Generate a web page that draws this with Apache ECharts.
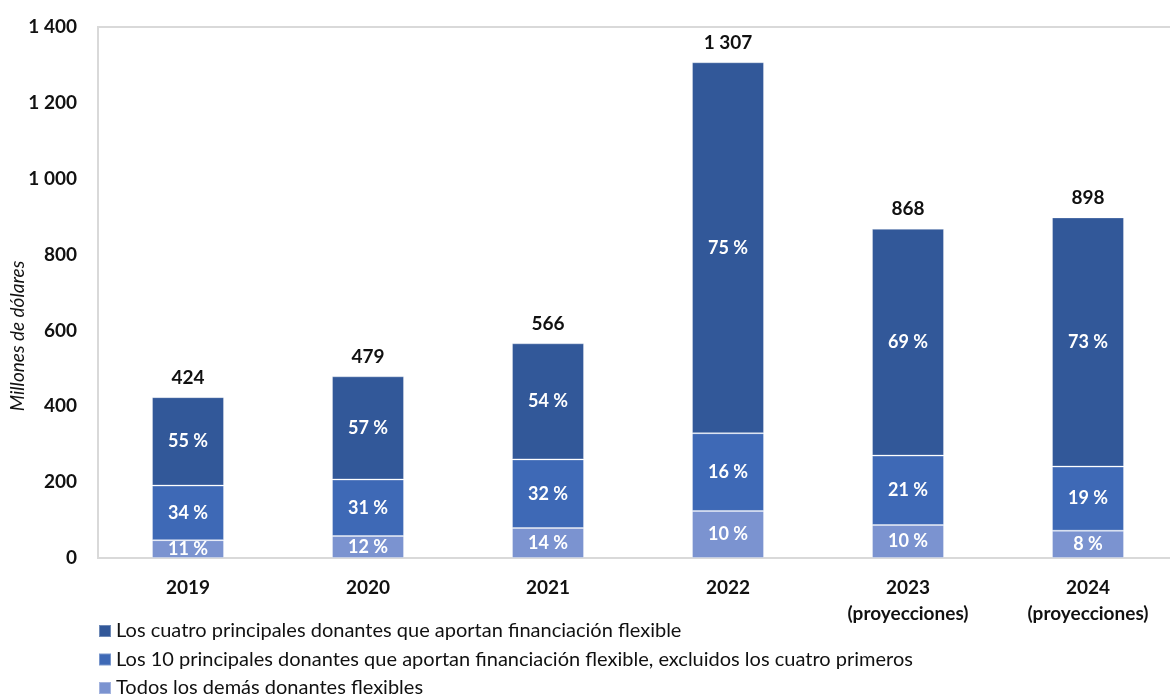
<!DOCTYPE html>
<html>
<head>
<meta charset="utf-8">
<script src="https://cdn.jsdelivr.net/npm/echarts@6/dist/echarts.min.js"></script>
<style>
  html, body { margin: 0; padding: 0; background: #fff; }
  #chart { width: 1170px; height: 697px; }
</style>
</head>
<body>
<div id="chart"></div>
<script>
// datos (millones de dólares)
const categories = ['2019', '2020', '2021', '2022', '2023\n(proyecciones)', '2024\n(proyecciones)']
const totals = [424, 479, 566, 1307, 868, 898]
const otrosValues = [47, 58, 79, 124, 87, 72]
const top10Values = [144, 149, 181, 205, 183, 169]
const top4Values = [233, 272, 306, 978, 598, 657]
const otrosPct = ['11 %', '12 %', '14 %', '10 %', '10 %', '8 %']
const top10Pct = ['34 %', '31 %', '32 %', '16 %', '21 %', '19 %']
const top4Pct = ['55 %', '57 %', '54 %', '75 %', '69 %', '73 %']
const yTicks = [0, 200, 400, 600, 800, 1000, 1200, 1400]

const seriesNames = [
  'Los cuatro principales donantes que aportan financiación flexible',
  'Los 10 principales donantes que aportan financiación flexible, excluidos los cuatro primeros',
  'Todos los demás donantes flexibles'
]
const font = 'Lato, "Open Sans", sans-serif'

function fmtNum(v) {
  return String(v).replace(/\B(?=(\d{3})+(?!\d))/g, ' ')
}

function pctSeries(name, values, pcts, color) {
  return {
    name: name,
    type: 'bar',
    stack: 'total',
    barWidth: 72,
    data: values,
    itemStyle: { color: color, borderColor: 'rgba(255,255,255,0.3)', borderWidth: 1 },
    label: {
      show: true,
      position: 'inside',
      color: '#fff',
      fontWeight: 'bold',
      fontSize: 18,
      fontFamily: font,
      formatter: p => pcts[p.dataIndex]
    }
  }
}

let chart = echarts.init(document.getElementById('chart'))
let option = {
  animation: false,
  textStyle: { fontFamily: font },
  // título del eje Y
  graphic: [{
    type: 'text',
    x: 18,
    y: 336,
    rotation: Math.PI / 2,
    style: {
      text: 'Millones de dólares',
      fontStyle: 'italic',
      fontSize: 19,
      fontFamily: font,
      fill: '#111',
      align: 'center',
      verticalAlign: 'middle'
    }
  }],
  // borde del área de trazado (arriba e izquierda visibles)
  grid: {
    left: 98, top: 27, width: 1080, bottom: 139,
    containLabel: false, outerBoundsMode: 'none',
    show: true, borderColor: '#d9d9d9', borderWidth: 2
  },
  legend: {
    orient: 'vertical',
    left: 93,
    top: 616,
    height: 90,
    itemWidth: 12,
    itemHeight: 12,
    itemGap: 8.5,
    icon: 'rect',
    data: seriesNames.slice(),
    textStyle: { fontSize: 20, lineHeight: 18, color: '#111', fontFamily: font }
  },
  xAxis: {
    type: 'category',
    data: categories,
    axisLine: { lineStyle: { color: '#d9d9d9', width: 2 } },
    axisTick: { show: false },
    axisLabel: {
      color: '#111',
      fontWeight: 'bold',
      fontSize: 19,
      fontFamily: font,
      margin: 17,
      lineHeight: 26
    }
  },
  yAxis: {
    type: 'value',
    min: 0,
    max: 1400,
    interval: 200,
    axisLine: { show: true, lineStyle: { color: '#d9d9d9', width: 2 } },
    axisTick: { show: false },
    splitLine: { show: false },
    axisLabel: {
      color: '#111',
      fontWeight: 'bold',
      fontSize: 19,
      fontFamily: font,
      margin: 21,
      formatter: v => yTicks.indexOf(v) >= 0 ? fmtNum(v) : ''
    }
  },
  series: [
    pctSeries(seriesNames[2], otrosValues, otrosPct, '#7b93d0'),
    pctSeries(seriesNames[1], top10Values, top10Pct, '#3e69b6'),
    pctSeries(seriesNames[0], top4Values, top4Pct, '#325899'),
    {
      name: 'total',
      type: 'bar',
      barWidth: 72,
      barGap: '-100%',
      z: 1,
      data: totals,
      itemStyle: { color: 'rgba(0,0,0,0)' },
      label: {
        show: true,
        position: 'top',
        distance: 10,
        color: '#111',
        fontWeight: 'bold',
        fontSize: 19,
        fontFamily: font,
        formatter: p => fmtNum(p.value)
      }
    }
  ]
}
chart.setOption(option)
window.addEventListener('resize', () => {
  chart.resize()
})
</script>
</body>
</html>
